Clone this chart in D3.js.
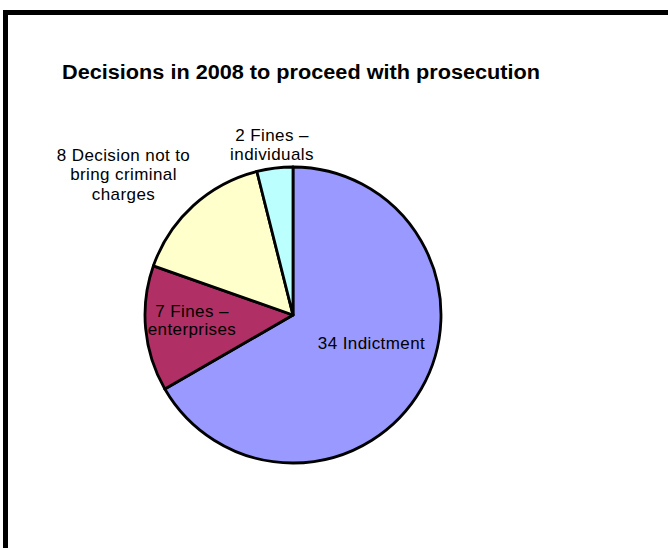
<!DOCTYPE html>
<html>
<head>
<meta charset="utf-8">
<script src="https://cdn.jsdelivr.net/npm/d3@7"></script>
<style>
  html, body { margin: 0; padding: 0; background: #fff; }
  svg { display: block; }
</style>
</head>
<body>
<svg id="chart" width="668" height="548"></svg>
<script>
// Prosecution decisions, 2008
const categories = ["Indictment", "Fines – enterprises", "Decision not to bring criminal charges", "Fines – individuals"];
const values = [34, 7, 8, 2];
const colors = ["#9999FF", "#B02F65", "#FFFFCC", "#BBFFFF"];
// Label lines per slice (value prefixed on the first line)
const labelLines = [
  ["34 Indictment"],
  ["7 Fines –", "enterprises"],
  ["8 Decision not to", "bring criminal", "charges"],
  ["2 Fines –", "individuals"]
];
const title = "Decisions in 2008 to proceed with prosecution";

const svg = d3.select("#chart");

// Chart frame (only top and left edges fall inside the view)
svg.append("rect")
  .attr("x", 5.5).attr("y", 12.5)
  .attr("width", 700).attr("height", 600)
  .attr("fill", "none").attr("stroke", "#000").attr("stroke-width", 5);

svg.append("text")
  .attr("x", 62).attr("y", 79)
  .attr("font-family", "Liberation Sans, Arial, sans-serif")
  .attr("font-weight", "bold")
  .attr("font-size", 19.5)
  .attr("textLength", 478)
  .attr("lengthAdjust", "spacingAndGlyphs")
  .text(title);

const cx = 293, cy = 315, r = 148;
const data = categories.map((c, i) => ({ category: c, value: values[i], color: colors[i], lines: labelLines[i] }));

const pie = d3.pie().value(d => d.value).sort(null);
const arc = d3.arc().innerRadius(0).outerRadius(r);
const arcs = pie(data);

const g = svg.append("g").attr("transform", `translate(${cx},${cy})`);

g.selectAll("path.slice")
  .data(arcs)
  .join("path")
  .attr("class", "slice")
  .attr("d", arc)
  .attr("fill", d => d.data.color)
  .attr("stroke", "#000")
  .attr("stroke-width", 2.8)
  .attr("stroke-linejoin", "round");

// Label block centres relative to the pie centre, and line spacing
const labelAnchors = [[78.5, 28], [-101, 5], [-169.5, -140.5], [-21, -170.5]];
const lineSpacing = [18, 18, 19.5, 19];

arcs.forEach((a, i) => {
  const [x, y] = labelAnchors[i];
  const lines = a.data.lines;
  const t = g.append("text")
    .attr("text-anchor", "middle")
    .attr("font-family", "Liberation Sans, Arial, sans-serif")
    .attr("font-size", 17)
    .attr("letter-spacing", 0.4)
    .attr("fill", "#000");
  const top = y - (lines.length - 1) * lineSpacing[i] / 2;
  lines.forEach((ln, k) => {
    t.append("tspan")
      .attr("x", x)
      .attr("y", top + k * lineSpacing[i])
      .attr("dy", "0.35em")
      .text(ln);
  });
});
</script>
</body>
</html>
